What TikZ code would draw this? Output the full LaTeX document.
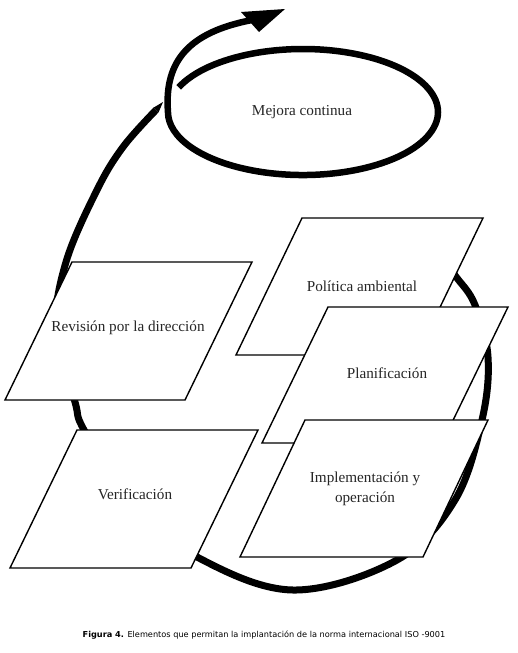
\documentclass[tikz,border=0pt]{standalone}
\usepackage{fontspec}
\setmainfont{Liberation Serif}
\newfontfamily\capfont{DejaVu Sans}
\begin{document}
\begin{tikzpicture}[x=1pt,y=1pt,
  thickline/.style={line width=7pt,line cap=butt,line join=round},
  pgram/.style={draw=black,fill=white,line width=1.4pt,line join=miter},
  lbl/.style={font=\fontsize{15.2}{20}\selectfont,text=black!85,align=center,inner sep=0pt},
  caption/.style={font=\capfont\fontsize{8.2}{10}\selectfont,inner sep=0pt}]
\useasboundingbox (0,0) rectangle (517,-653);
\fill[white] (0,0) rectangle (517,-653);
% big loop
\draw[thickline] plot[smooth,tension=0.6] coordinates {
  (156,-110) (123,-147) (97,-190) (66,-262) (56,-330) (75,-402) (84,-430)
  (130,-505) (197,-557) (293,-590) (397,-560) (455,-500) (482,-420)
  (488,-357) (475,-305) (457,-278) (440,-258)};
% tapering top end of the big loop
\fill (153.4,-107.7) -- (163,-102) -- (158.6,-112.3) -- cycle;
% mejora continua spiral with arrow
\draw[line width=6.5pt,line cap=butt] (178.7,-87.4)
  arc[start angle=157,end angle=-180,x radius=135pt,y radius=63pt]
  .. controls (164,-60) and (190,-32) .. (252,-20);
\fill (241,-12) -- (285,-9) -- (259,-32) -- cycle;
\node[lbl] (mejora) at (302,-112) {Mejora continua};
% parallelograms
\draw[pgram] (72,-262) -- ++(180,0) -- ++(-67,-138) -- ++(-180,0) -- cycle;
\node[lbl] (revision) at (128,-328) {Revisión por la dirección};
\draw[pgram] (77,-430) -- ++(181,0) -- ++(-67,-138) -- ++(-181,0) -- cycle;
\node[lbl] (verif) at (135,-494) {Verificación};
\draw[pgram] (302,-218) -- ++(181,0) -- ++(-66,-137) -- ++(-181,0) -- cycle;
\node[lbl] (politica) at (362,-286) {Política ambiental};
\draw[pgram] (328,-307) -- ++(180,0) -- ++(-66,-136) -- ++(-180,0) -- cycle;
\node[lbl] (planif) at (387,-373) {Planificación};
\draw[pgram] (305,-420) -- ++(183,0) -- ++(-65,-137) -- ++(-183,0) -- cycle;
\node[lbl] (implem) at (365,-489) {Implementación y\\operación};
% caption
\node[caption] (cap) at (264,-635) {\textbf{Figura 4.} Elementos que permitan la implantación de la norma internacional ISO -9001};
\end{tikzpicture}
\end{document}
